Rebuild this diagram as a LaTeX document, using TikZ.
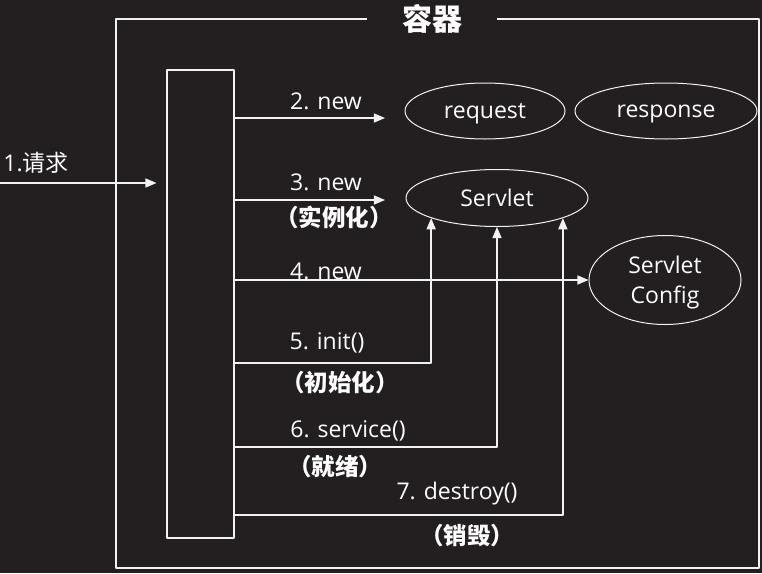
\documentclass[tikz,border=0pt]{standalone}
\usepackage{fontspec}
\setmainfont{Open Sans}
\newfontfamily\cjk{Noto Sans CJK SC}
\usetikzlibrary{arrows,shapes.geometric,positioning}
\definecolor{bgdark}{RGB}{35,31,32}
\definecolor{wline}{RGB}{242,242,242}
\tikzstyle{every node}=[text=white,font=\fontsize{23}{30}\selectfont]
\tikzset{
  obj/.style={ellipse,draw=wline,line width=1pt,inner sep=0pt,text depth=0pt},
  zh/.style={font=\cjk\bfseries\fontsize{23.5}{27}\selectfont},
  msg/.style={->,line width=1.6pt,color=wline}
}
\begin{document}
\begin{tikzpicture}[line join=round,>=triangle 45,x=1pt,y=-1pt]
  \fill[bgdark] (0,0) rectangle (762,573);
  \useasboundingbox (0,0) rectangle (762,573);
  % container
  \node[font=\cjk\bfseries\fontsize{30}{34}\selectfont,minimum width=130pt,inner sep=0pt] (title) at (432,19) {容器};
  \draw[line width=2.2pt,color=wline] (title.west) -- (116,19) |- (759,568) |- (title.east);
  \node[draw=wline,line width=2pt,minimum width=67pt,minimum height=468pt,inner sep=0pt] (ctl) at (200,304) {};
  % objects
  \node[obj,minimum width=160pt,minimum height=56pt] (req) at (485,111) {request};
  \node[obj,minimum width=182pt,minimum height=56pt] (resp) at (666,111) {response};
  \node[obj,minimum width=182pt,minimum height=57pt] (svt) at (497,198) {Servlet};
  \node[obj,minimum width=152pt,minimum height=89pt,align=center] (cfg) at (665,280) {Servlet\\Config};
  % free ends
  \coordinate (src) at (0,183);
  \coordinate (e2) at (385,118);
  \coordinate (e3) at (385,200);
  \coordinate (c5) at (433,363);
  \coordinate (c6) at (497,447);
  \coordinate (c7) at (561,515);
  % messages
  \draw[msg,shorten >=9pt] (src) -- (ctl.west |- src);
  \draw[msg] (ctl.east |- e2) -- (e2);
  \draw[msg] (ctl.east |- e3) -- (e3);
  \draw[msg] (ctl.east |- cfg.west) -- (cfg.west);
  \draw[msg] (ctl.east |- c5) -| (svt.197);
  \draw[msg] (ctl.east |- c6) -| (svt.south);
  \draw[msg] (ctl.east |- c7) -| (svt.343);
  % labels
  \node (l1) at (36,163) {1.{\cjk 请求}};
  \node (l2) at (326,101) {2. new};
  \node (l3) at (326,182) {3. new};
  \node[zh] (z3) at (334,217) {（实例化）};
  \node (l4) at (326,271) {4. new};
  \node (l5) at (327,343) {5. init()};
  \node[zh] (z5) at (340,383) {（初始化）};
  \node (l6) at (348,431) {6. service()};
  \node[zh] (z6) at (335,467) {（就绪）};
  \node (l7) at (457,494) {7. destroy()};
  \node[zh] (z7) at (467,536) {（销毁）};
\end{tikzpicture}
\end{document}
